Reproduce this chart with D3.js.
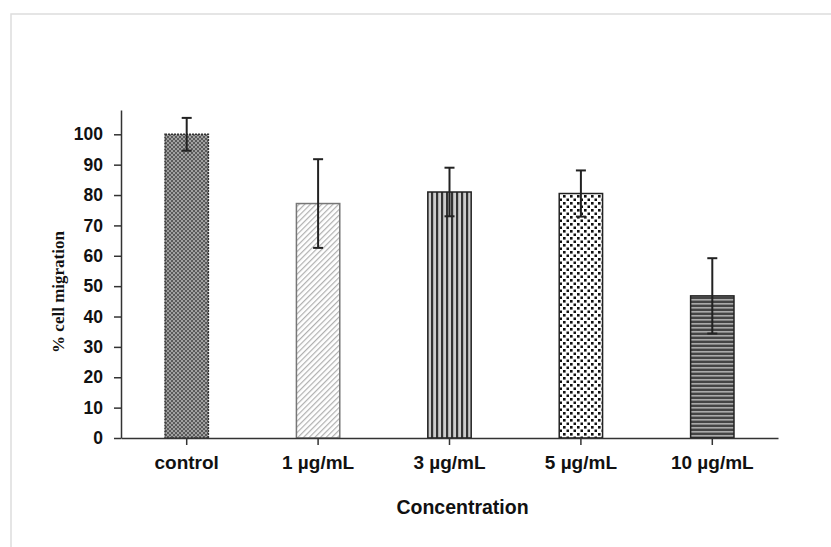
<!DOCTYPE html>
<html lang="en">
<head>
  <meta charset="utf-8">
  <title>% cell migration</title>
  <script src="https://d3js.org/d3.v7.min.js"></script>
  <style>
    body { margin: 0; background: #fff; }
    .axis text { font-family: "Liberation Sans", Arial, sans-serif; font-weight: bold; fill: #111; }
    .axis path, .axis line { stroke: #333; stroke-width: 1.5px; }
  </style>
</head>
<body>
  <div id="chart"></div>

  <script>
    "use strict"

    var categorias = ["control", "1 µg/mL", "3 µg/mL", "5 µg/mL", "10 µg/mL"];
    var valores = [100, 77.2, 81.0, 80.5, 46.8];
    var erros = [5.4, 14.6, 8.0, 7.6, 12.4];
    var ticksY = [0, 10, 20, 30, 40, 50, 60, 70, 80, 90, 100];

    var larguraSVG = 831, alturaSVG = 547;
    var margin = {top: 110, left: 121, right: 53, bottom: 109};
    var larguraVis = larguraSVG - margin.left - margin.right,
        alturaVis = alturaSVG - margin.top - margin.bottom;

    var svg = d3.select('#chart')
      .append('svg')
        .attr('width', larguraSVG)
        .attr('height', alturaSVG);

    // moldura cinza clara
    svg.append('rect')
      .attr('x', 11).attr('y', 14)
      .attr('width', larguraSVG + 20).attr('height', alturaSVG + 20)
      .attr('fill', 'none').attr('stroke', '#ddd').attr('stroke-width', 1.5);

    var defs = svg.append('defs');

    // control: xadrez fino cinza
    var p0 = defs.append('pattern').attr('id', 'p0').attr('patternUnits', 'userSpaceOnUse')
      .attr('width', 4).attr('height', 4);
    p0.append('rect').attr('width', 4).attr('height', 4).attr('fill', '#a0a0a0');
    p0.append('rect').attr('width', 2).attr('height', 2).attr('fill', '#5a5a5a');
    p0.append('rect').attr('x', 2).attr('y', 2).attr('width', 2).attr('height', 2).attr('fill', '#5a5a5a');

    // 1 µg/mL: diagonais claras
    var p1 = defs.append('pattern').attr('id', 'p1').attr('patternUnits', 'userSpaceOnUse')
      .attr('width', 4).attr('height', 4).attr('patternTransform', 'rotate(45)');
    p1.append('rect').attr('width', 4).attr('height', 4).attr('fill', '#fff');
    p1.append('rect').attr('width', 1.2).attr('height', 4).attr('fill', '#b0b0b0');

    // 3 µg/mL: listras verticais
    var p2 = defs.append('pattern').attr('id', 'p2').attr('patternUnits', 'userSpaceOnUse')
      .attr('width', 5).attr('height', 5);
    p2.append('rect').attr('width', 5).attr('height', 5).attr('fill', '#ccc');
    p2.append('rect').attr('width', 2.2).attr('height', 5).attr('fill', '#333');

    // 5 µg/mL: pontos
    var p3 = defs.append('pattern').attr('id', 'p3').attr('patternUnits', 'userSpaceOnUse')
      .attr('width', 7).attr('height', 7);
    p3.append('rect').attr('width', 7).attr('height', 7).attr('fill', '#fff');
    p3.append('rect').attr('x', 1).attr('y', 1).attr('width', 2.6).attr('height', 2.6).attr('fill', '#111');
    p3.append('rect').attr('x', 4.5).attr('y', 4.5).attr('width', 2.6).attr('height', 2.6).attr('fill', '#111');

    // 10 µg/mL: linhas horizontais
    var p4 = defs.append('pattern').attr('id', 'p4').attr('patternUnits', 'userSpaceOnUse')
      .attr('width', 4).attr('height', 4);
    p4.append('rect').attr('width', 4).attr('height', 4).attr('fill', '#444');
    p4.append('rect').attr('y', 1).attr('width', 4).attr('height', 1.6).attr('fill', '#aaa');

    var preenchimentos = ['url(#p0)', 'url(#p1)', 'url(#p2)', 'url(#p3)', 'url(#p4)'];
    var bordas = ['#333', '#777', '#222', '#222', '#222'];

    var grafico = svg.append('g')
      .attr('transform', 'translate(' + margin.left + ',' + margin.top + ')');

    var x = d3.scaleBand()
      .domain(categorias)
      .range([0, larguraVis])
      .paddingInner(0.67)
      .paddingOuter(0.335);

    var y = d3.scaleLinear()
      .domain([0, 108])
      .range([alturaVis, 0]);

    var dados = categorias.map(function(c, i) {
      return {cat: c, v: valores[i], e: erros[i], i: i};
    });

    grafico.selectAll('rect.barra')
      .data(dados)
      .enter()
      .append('rect')
        .attr('class', 'barra')
        .attr('x', d => x(d.cat))
        .attr('y', d => y(d.v))
        .attr('width', x.bandwidth())
        .attr('height', d => y(0) - y(d.v))
        .attr('fill', d => preenchimentos[d.i])
        .attr('stroke', d => bordas[d.i])
        .attr('stroke-width', 1.5)
        .attr('stroke-dasharray', d => d.i === 0 ? '2,1' : null);

    // barras de erro
    var eb = grafico.selectAll('g.erro')
      .data(dados)
      .enter()
      .append('g')
        .attr('class', 'erro')
        .attr('stroke', '#222')
        .attr('stroke-width', 2);

    eb.append('line')
      .attr('x1', d => x(d.cat) + x.bandwidth() / 2)
      .attr('x2', d => x(d.cat) + x.bandwidth() / 2)
      .attr('y1', d => y(d.v + d.e))
      .attr('y2', d => y(d.v - d.e));
    eb.append('line')
      .attr('x1', d => x(d.cat) + x.bandwidth() / 2 - 5)
      .attr('x2', d => x(d.cat) + x.bandwidth() / 2 + 5)
      .attr('y1', d => y(d.v + d.e))
      .attr('y2', d => y(d.v + d.e));
    eb.append('line')
      .attr('x1', d => x(d.cat) + x.bandwidth() / 2 - 5)
      .attr('x2', d => x(d.cat) + x.bandwidth() / 2 + 5)
      .attr('y1', d => y(d.v - d.e))
      .attr('y2', d => y(d.v - d.e));

    grafico.append('g')
      .attr('class', 'axis')
      .attr('transform', 'translate(0,' + alturaVis + ')')
      .call(d3.axisBottom(x).tickSizeInner(7).tickSizeOuter(0).tickPadding(11))
      .selectAll('text')
        .style('font-size', '19px');

    grafico.append('g')
      .attr('class', 'axis')
      .call(d3.axisLeft(y).tickValues(ticksY).tickSizeInner(7).tickSizeOuter(0).tickPadding(11))
      .selectAll('text')
        .style('font-size', '17.5px');

    grafico.append('text')
      .attr('x', larguraVis / 2 + 13)
      .attr('y', alturaVis + 76)
      .attr('text-anchor', 'middle')
      .style('font-family', '"Liberation Sans", Arial, sans-serif')
      .style('font-weight', 'bold')
      .style('font-size', '19.5px')
      .attr('fill', '#111')
      .text('Concentration');

    grafico.append('text')
      .attr('transform', 'translate(' + (-57) + ',' + (alturaVis / 2 + 18) + ') rotate(-90)')
      .attr('text-anchor', 'middle')
      .style('font-family', '"Liberation Serif", "Times New Roman", serif')
      .style('font-weight', 'bold')
      .style('font-size', '17px')
      .attr('fill', '#111')
      .text('% cell migration');
  </script>
</body>
</html>
